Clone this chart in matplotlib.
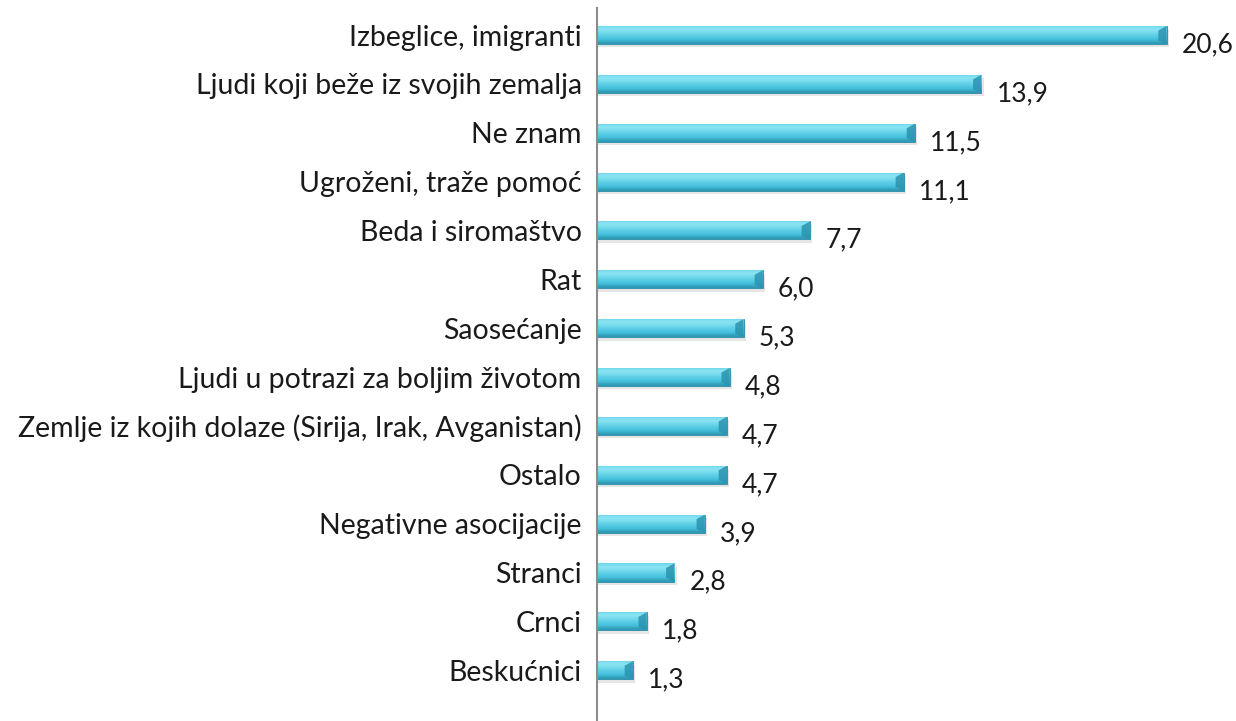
import matplotlib
matplotlib.use("Agg")
import matplotlib.pyplot as plt
import numpy as np

CATEGORIES = [
    "Izbeglice, imigranti",
    "Ljudi koji beže iz svojih zemalja",
    "Ne znam",
    "Ugroženi, traže pomoć",
    "Beda i siromaštvo",
    "Rat",
    "Saosećanje",
    "Ljudi u potrazi za boljim životom",
    "Zemlje iz kojih dolaze (Sirija, Irak, Avganistan)",
    "Ostalo",
    "Negativne asocijacije",
    "Stranci",
    "Crnci",
    "Beskućnici",
]
VALUES = [20.6, 13.9, 11.5, 11.1, 7.7, 6.0, 5.3, 4.8, 4.7, 4.7, 3.9, 2.8, 1.8, 1.3]

BAR_H = 0.37


def fmt(v):
    return f"{v:.1f}".replace(".", ",")


def main():
    plt.rcParams['font.family'] = ['Lato', 'DejaVu Sans']

    fig = plt.figure(figsize=(12.36, 7.21), dpi=100)
    ax = fig.add_axes([597 / 1236, 0, (1233 - 597) / 1236, (721 - 8) / 721])

    y = np.arange(len(CATEGORIES))
    vals = np.array(VALUES)

    # soft shadow under the bars
    ax.barh(y + 0.07, vals + 0.08, height=BAR_H, left=0, color="#000000",
            alpha=0.10, linewidth=0, zorder=1)

    # cylinder-like gradient bars
    grad = np.array([0.8, 1.0, 0.97, 0.85, 0.72, 0.62, 0.52, 0.38, 0.15]).reshape(-1, 1)
    cmap = matplotlib.colors.LinearSegmentedColormap.from_list(
        "cyl", ["#25859f", "#45c2de", "#8ae4f4"])
    bars = ax.barh(y, vals, height=BAR_H, color="#45c2de",
                   edgecolor="#2a8aa5", linewidth=0.6, zorder=2)
    for b in bars:
        x0, y0 = b.get_x(), b.get_y()
        w, h = b.get_width(), b.get_height()
        im = ax.imshow(grad, cmap=cmap, vmin=0, vmax=1, aspect="auto",
                       extent=(x0, x0 + w, y0 + h, y0), zorder=3,
                       interpolation="bicubic")
        im.set_clip_path(b)
        # bevelled right end
        ax.fill([x0 + w - 0.3, x0 + w, x0 + w, x0 + w - 0.3],
                [y0 + h * 0.25, y0, y0 + h, y0 + h * 0.8],
                color="#2b93b0", alpha=0.85, zorder=4, linewidth=0)

    for yi, v in zip(y, vals):
        ax.text(v + 0.55, yi + 0.2, fmt(v), ha="left", va="center",
                fontsize=19, color="#1a1a1a")

    ax.set_yticks(y)
    ax.set_yticklabels(CATEGORIES, fontsize=20.5, color="#1a1a1a")
    ax.tick_params(axis="y", length=0, pad=11)
    ax.set_xticks([])
    ax.set_xlim(0, 23)
    ax.set_ylim(14.04, -0.553)

    for s in ["top", "right", "bottom"]:
        ax.spines[s].set_visible(False)
    ax.spines["left"].set_color("#8c8c8c")
    ax.spines["left"].set_linewidth(1.5)
    ax.spines["left"].set_zorder(5)

    fig.savefig("out.png", dpi=100)


if __name__ == "__main__":
    main()
